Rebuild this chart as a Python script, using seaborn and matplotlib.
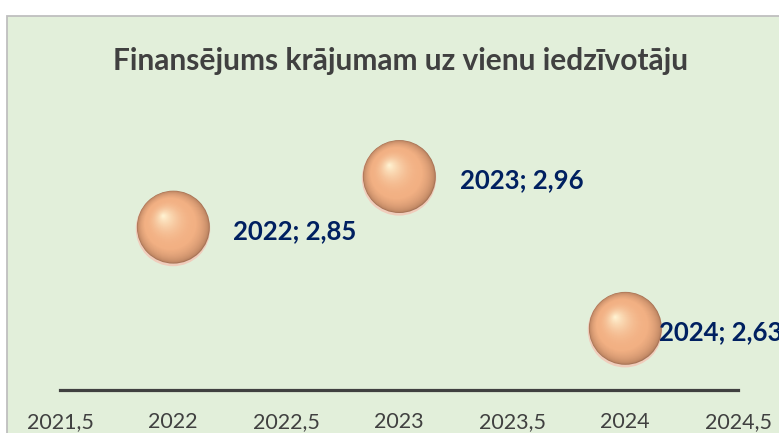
import numpy as np
import matplotlib
matplotlib.use("Agg")
import matplotlib.pyplot as plt
import matplotlib.patches as mpatches
import matplotlib.transforms as mtransforms
from matplotlib.colors import to_rgb
import seaborn as sns

# ---- data ----
years = [2022, 2023, 2024]
values = [2.85, 2.96, 2.63]
xticks = [2021.5, 2022, 2022.5, 2023, 2023.5, 2024, 2024.5]
xtick_labels = ["2021,5", "2022", "2022,5", "2023", "2023,5", "2024", "2024,5"]
title = "Finansējums krājumam uz vienu iedzīvotāju"

sns.set_theme(style="white")
plt.rcParams['font.family'] = ['Lato', 'DejaVu Sans']

W, H = 779, 433
fig = plt.figure(figsize=(W / 100, H / 100), dpi=100)
fig.patch.set_facecolor("white")

# chart area background with border
bg = mpatches.Rectangle((7 / W, -0.01), 1.0, 1 - 16 / H + 0.01, transform=fig.transFigure,
                        facecolor="#E2EFDA", edgecolor="#BFBFBF", linewidth=1.3, zorder=-5)
fig.patches.append(bg)

ax = fig.add_axes([60 / W, 43 / H, 678 / W, 276 / H])
ax.set_zorder(2)
ax.set_facecolor("none")
ax.set_xlim(2021.5, 2024.5)
ax.set_ylim(2.5, 3.1)

# sphere-like bubbles: layered scatter
r_pt = 26.8  # radius in points
N = 45
c_edge = np.array(to_rgb("#A87456"))
c_mid = np.array(to_rgb("#F2B083"))
c_hi = np.array(to_rgb("#FFF1D0"))
# base with light pinkish rim at bottom
sns.scatterplot(x=years, y=values, s=(2 * r_pt) ** 2, color="#F0CDBC", edgecolor="none",
                ax=ax, zorder=3, legend=False)
for i in range(N):
    t = i / (N - 1)
    rad = r_pt * (1 - t) * 0.95 + 0.8
    if t < 0.3:
        col = c_edge + (c_mid - c_edge) * (t / 0.3) ** 0.45
    else:
        col = c_mid + (c_hi - c_mid) * ((t - 0.3) / 0.7) ** 2.0
    dx = -0.27 * r_pt * t + 0.01 * r_pt
    dy = 0.30 * r_pt * t + 0.05 * r_pt
    tr = mtransforms.offset_copy(ax.transData, fig=fig, x=dx, y=dy, units="points")
    ax.scatter(years, values, s=(2 * rad) ** 2, color=tuple(col), edgecolors="none",
               transform=tr, zorder=4 + i)

# data labels
label_dx_px = [60, 61, 34]
for xv, yv, dxp in zip(years, values, label_dx_px):
    txt = f"{xv}; {yv:.2f}".replace(".", ",")
    ax.annotate(txt, (xv, yv), xytext=(dxp * 0.72, -2 * 0.72), textcoords="offset points",
                ha="left", va="center", fontsize=18.5, fontweight="bold", color="#002060",
                zorder=100, annotation_clip=False)

# axes styling
for s in ["top", "right", "left"]:
    ax.spines[s].set_visible(False)
ax.spines["bottom"].set_color("#404040")
ax.spines["bottom"].set_linewidth(2.3)
ax.set_yticks([])
ax.set_xticks(xticks)
ax.set_xticklabels(xtick_labels)
ax.tick_params(axis="x", length=0, pad=16, labelsize=15.5, labelcolor="#404040")
ax.grid(False)

fig.text(401 / W, 1 - 61 / H, title, ha="center", va="center", fontsize=21.5,
         fontweight="bold", color="#404040")

fig.savefig("out.png", dpi=100)
